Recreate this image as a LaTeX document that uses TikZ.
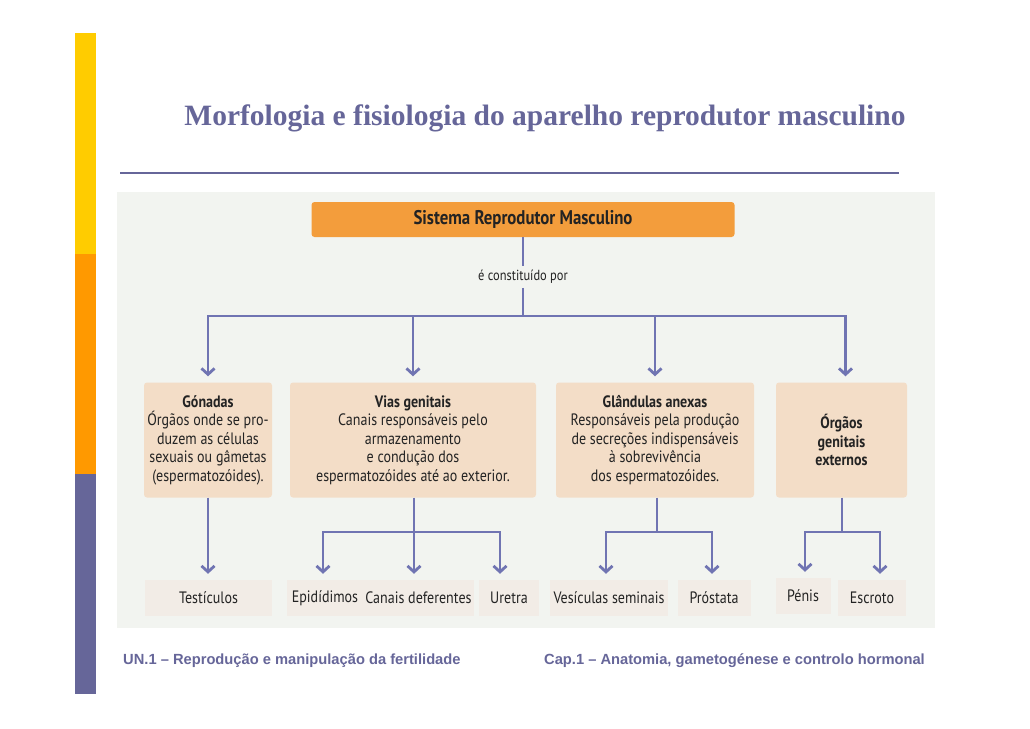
\documentclass[tikz,border=0pt]{standalone}
\usepackage{fontspec}
\setmainfont{Liberation Serif}
\newfontfamily\boxfont[FakeStretch=0.85]{PT Sans}
\newfontfamily\footfont{Liberation Sans}
\usetikzlibrary{arrows.meta}
\definecolor{slate}{RGB}{102,102,153}
\definecolor{barY}{RGB}{255,204,0}
\definecolor{barO}{RGB}{255,153,0}
\definecolor{bgpage}{RGB}{242,244,240}
\definecolor{topor}{RGB}{243,157,60}
\definecolor{peach}{RGB}{243,221,199}
\definecolor{faint}{RGB}{242,236,230}
\definecolor{conncol}{RGB}{112,116,178}
\definecolor{ink}{RGB}{35,35,35}
\tikzset{
  titletext/.style={font=\fontsize{29.5}{34}\selectfont\bfseries, text=slate, inner sep=0pt},
  topbox/.style={fill=topor, rounded corners=3pt, minimum width=423pt, minimum height=35pt,
    font=\boxfont\fontsize{19.8}{22}\selectfont\bfseries, text=ink, inner sep=0pt},
  midbox/.style={fill=peach, rounded corners=3pt, minimum height=115pt, inner sep=2pt,
    align=center, font=\boxfont\fontsize{16.5}{18.5}\selectfont, text=ink},
  leafbox/.style={fill=faint, minimum height=36pt, inner sep=2pt,
    font=\boxfont\fontsize{16.5}{18.5}\selectfont, text=ink},
  lbltext/.style={font=\boxfont\fontsize{14.6}{16}\selectfont, text=ink, inner sep=4pt},
  foottext/.style={font=\footfont\fontsize{14.7}{17}\selectfont\bfseries, text=slate, inner sep=0pt},
  conn/.style={draw=conncol, line width=2.8pt},
  arr/.style={conn, -{Straight Barb[length=6pt,width=13pt]}, shorten >=6pt},
}
\begin{document}
\begin{tikzpicture}[x=1pt,y=-1pt]
\useasboundingbox (0,0) rectangle (1030,728);
\fill[white] (0,0) rectangle (1030,728);
% side bar
\fill[barY] (75,33) rectangle (96,254);
\fill[barO] (75,254) rectangle (96,474);
\fill[slate] (75,474) rectangle (96,694);
% title
\node[titletext] (title) at (545,118) {Morfologia e fisiologia do aparelho reprodutor masculino};
\draw[slate, line width=2pt] (120,173) -- (899,173);
% background of the figure
\fill[bgpage] (117,192) rectangle (935,628);
% top
\node[topbox] (top) at (523,219.5) {Sistema Reprodutor Masculino};
\node[lbltext] (lbl) at (523,277) {é constituído por};
\coordinate (j1) at (523,316);
% middle boxes
\node[midbox, minimum width=128pt] (gon) at (208,440)
  {\textbf{Gónadas}\\Órgãos onde se pro-\\duzem as células\\sexuais ou gâmetas\\(espermatozóides).};
\node[midbox, minimum width=246pt] (vias) at (413,440)
  {\textbf{Vias genitais}\\Canais responsáveis pelo\\armazenamento\\e condução dos\\espermatozóides até ao exterior.};
\node[midbox, minimum width=198pt] (gla) at (655,440)
  {\textbf{Glândulas anexas}\\Responsáveis pela produção\\de secreções indispensáveis\\à sobrevivência\\dos espermatozóides.};
\node[midbox, minimum width=131pt] (org) at (841.5,440)
  {\textbf{Órgãos}\\\textbf{genitais}\\\textbf{externos}};
% leaves
\node[leafbox, minimum width=127pt] (tes) at (208.5,598) {Testículos};
\node[leafbox, minimum width=76pt] (epi) at (325,598) {Epidídimos};
\node[leafbox, minimum width=107pt] (can) at (418.5,598) {Canais deferentes};
\node[leafbox, minimum width=60pt] (ure) at (509,598) {Uretra};
\node[leafbox, minimum width=118pt] (ves) at (609,598) {Vesículas seminais};
\node[leafbox, minimum width=73pt] (pro) at (714,598) {Próstata};
\node[leafbox, minimum width=55pt] (pen) at (803,596) {Pénis};
\node[leafbox, minimum width=68pt] (esc) at (872,598) {Escroto};
% connectors
\draw[conn] (top.south) -- (lbl.north);
\draw[conn] (lbl.south) -- (j1);
\draw[arr] (j1) -| (gon.north);
\draw[arr] (j1) -| (vias.north);
\draw[arr] (j1) -| (gla.north);
\draw[arr] (j1) -| ([xshift=4pt]org.north);
\coordinate (j2) at (414,532);
\coordinate (j3) at (657,532);
\coordinate (j4) at (842,532);
\draw[arr] (gon.south) -- (gon.south |- tes.north);
\draw[conn] (vias.south -| j2) -- (j2);
\draw[arr] (j2) -| ([xshift=-2pt]epi.north);
\draw[arr] (j2) -- (j2 |- can.north);
\draw[arr] (j2) -| ([xshift=-9pt]ure.north);
\draw[conn] (gla.south -| j3) -- (j3);
\draw[arr] (j3) -| ([xshift=-3pt]ves.north);
\draw[arr] (j3) -| ([xshift=-2pt]pro.north);
\draw[conn] (org.south -| j4) -- (j4);
\draw[arr] (j4) -| ([xshift=2pt]pen.north);
\draw[arr] (j4) -| ([xshift=8pt]esc.north);
% footer
\node[foottext, anchor=west] (f1) at (123,661) {UN.1 – Reprodução e manipulação da fertilidade};
\node[foottext, anchor=east] (f2) at (925,661) {Cap.1 – Anatomia, gametogénese e controlo hormonal};
\end{tikzpicture}
\end{document}
